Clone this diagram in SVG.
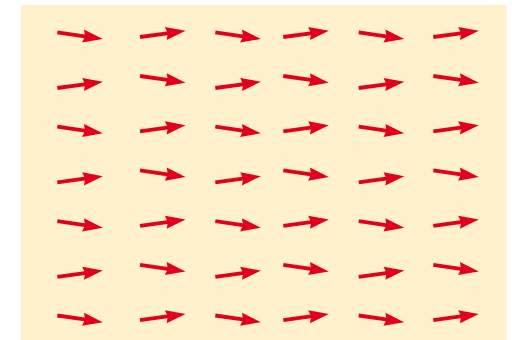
<svg xmlns="http://www.w3.org/2000/svg" xmlns:xlink="http://www.w3.org/1999/xlink" width="512" height="340" viewBox="0 0 512 340">
<defs>
<style>
.bg{fill:#FEF1CC}
.ar{fill:#E2001A}
</style>
<path id="a" class="ar" d="M0,-1.9 L27.5,-1.9 L26,-6.6 L46,0 L26,6.6 L27.5,1.9 L0,1.9 Z"/>
</defs>
<rect class="bg" x="20.7" y="4.7" width="486" height="336"/>
<g id="arrows">
<!-- row 1 -->
<use xlink:href="#a" href="#a" transform="translate(57.3,32.3) rotate(8.3)"/>
<use xlink:href="#a" href="#a" transform="translate(140,37) rotate(-7.8)"/>
<use xlink:href="#a" href="#a" transform="translate(215.3,32.3) rotate(8.3)"/>
<use xlink:href="#a" href="#a" transform="translate(283.3,37) rotate(-7.8)"/>
<use xlink:href="#a" href="#a" transform="translate(358.7,32.3) rotate(8.3)"/>
<use xlink:href="#a" href="#a" transform="translate(433.3,37) rotate(-7.8)"/>
<!-- row 2 -->
<use xlink:href="#a" href="#a" transform="translate(57.3,88) rotate(-7.8)"/>
<use xlink:href="#a" href="#a" transform="translate(140,76) rotate(8.3)"/>
<use xlink:href="#a" href="#a" transform="translate(215.3,88) rotate(-7.8)"/>
<use xlink:href="#a" href="#a" transform="translate(283.3,76) rotate(8.3)"/>
<use xlink:href="#a" href="#a" transform="translate(358.7,88) rotate(-7.8)"/>
<use xlink:href="#a" href="#a" transform="translate(433.3,76) rotate(8.3)"/>
<!-- row 3 -->
<use xlink:href="#a" href="#a" transform="translate(57.3,126.7) rotate(8.3)"/>
<use xlink:href="#a" href="#a" transform="translate(140,131.4) rotate(-7.8)"/>
<use xlink:href="#a" href="#a" transform="translate(215.3,126.7) rotate(8.3)"/>
<use xlink:href="#a" href="#a" transform="translate(283.3,131.4) rotate(-7.8)"/>
<use xlink:href="#a" href="#a" transform="translate(358.7,126.7) rotate(8.3)"/>
<use xlink:href="#a" href="#a" transform="translate(433.3,131.4) rotate(-7.8)"/>
<!-- row 4 -->
<use xlink:href="#a" href="#a" transform="translate(57.3,182.4) rotate(-7.8)"/>
<use xlink:href="#a" href="#a" transform="translate(140,170.4) rotate(8.3)"/>
<use xlink:href="#a" href="#a" transform="translate(215.3,182.4) rotate(-7.8)"/>
<use xlink:href="#a" href="#a" transform="translate(283.3,170.4) rotate(8.3)"/>
<use xlink:href="#a" href="#a" transform="translate(358.7,182.4) rotate(-7.8)"/>
<use xlink:href="#a" href="#a" transform="translate(433.3,170.4) rotate(8.3)"/>
<!-- row 5 -->
<use xlink:href="#a" href="#a" transform="translate(57.3,221.1) rotate(8.3)"/>
<use xlink:href="#a" href="#a" transform="translate(140,225.8) rotate(-7.8)"/>
<use xlink:href="#a" href="#a" transform="translate(215.3,221.1) rotate(8.3)"/>
<use xlink:href="#a" href="#a" transform="translate(283.3,225.8) rotate(-7.8)"/>
<use xlink:href="#a" href="#a" transform="translate(358.7,221.1) rotate(8.3)"/>
<use xlink:href="#a" href="#a" transform="translate(433.3,225.8) rotate(-7.8)"/>
<!-- row 6 -->
<use xlink:href="#a" href="#a" transform="translate(57.3,276.8) rotate(-7.8)"/>
<use xlink:href="#a" href="#a" transform="translate(140,264.8) rotate(8.3)"/>
<use xlink:href="#a" href="#a" transform="translate(215.3,276.8) rotate(-7.8)"/>
<use xlink:href="#a" href="#a" transform="translate(283.3,264.8) rotate(8.3)"/>
<use xlink:href="#a" href="#a" transform="translate(358.7,276.8) rotate(-7.8)"/>
<use xlink:href="#a" href="#a" transform="translate(433.3,264.8) rotate(8.3)"/>
<!-- row 7 -->
<use xlink:href="#a" href="#a" transform="translate(57.3,315.5) rotate(8.3)"/>
<use xlink:href="#a" href="#a" transform="translate(140,320.2) rotate(-7.8)"/>
<use xlink:href="#a" href="#a" transform="translate(215.3,315.5) rotate(8.3)"/>
<use xlink:href="#a" href="#a" transform="translate(283.3,320.2) rotate(-7.8)"/>
<use xlink:href="#a" href="#a" transform="translate(358.7,315.5) rotate(8.3)"/>
<use xlink:href="#a" href="#a" transform="translate(433.3,320.2) rotate(-7.8)"/>
</g>
</svg>
